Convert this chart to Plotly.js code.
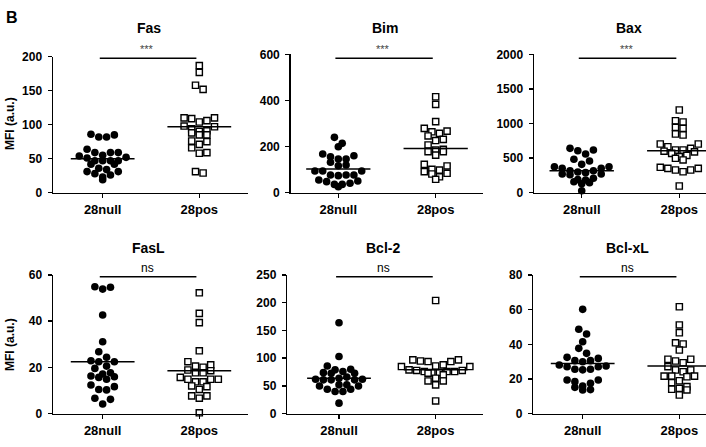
<!DOCTYPE html>
<html><head><meta charset="utf-8">
<script src="https://cdn.plot.ly/plotly-3.0.1.min.js"></script>
<style>html,body{margin:0;padding:0;background:#fff}#chart{width:706px;height:447px}</style>
</head><body><div id="chart"></div>
<script>
// ---- data ----
const groups = ['28null', '28pos'];
const panelTitles = ['Fas', 'Bim', 'Bax', 'FasL', 'Bcl-2', 'Bcl-xL'];
const significance = ['***', '***', '***', 'ns', 'ns', 'ns'];
const yAxisTitle = 'MFI (a.u.)';
const panelLetter = 'B';

const fasNull = [86,85,82,82,64,59,59,59,55,54,52,51,47,47,47,47,42,42,36,34,31,31,28,26,23,19];
const fasPos  = [187,177,158,152,110,110,109,106,104,98,97,94,91,90,88,85,85,76,75,71,66,59,58,31,29];
const fasMedian = [50, 97];

const bimNull = [240,214,199,168,160,156,146,146,132,120,117,94,94,94,77,77,77,74,55,51,48,41,36,36,26];
const bimPos  = [416,383,308,279,267,264,257,246,231,226,207,188,185,178,178,163,123,116,101,98,91,84,81,69,58];
const bimMedian = [103, 192];

const baxNull = [641,617,607,559,483,458,410,376,376,352,352,318,318,300,290,270,270,260,208,190,184,159,145,130,29];
const baxPos  = [1195,1040,1022,945,930,848,834,704,704,665,640,617,617,600,590,569,540,520,497,473,367,352,352,328,328,303,97];
const baxMedian = [318, 607];

const faslNull = [54.9,54.7,53.9,42.7,31.1,26.8,24.4,22.9,22.5,22.5,20.6,19.6,17.7,17.2,16.3,16,15.7,14.9,12.4,11.7,10.5,10.3,6.7,6.2,4.2];
const faslPos  = [52.3,43.4,39.4,27.2,22.5,21.1,20.6,20.1,18.9,18.6,17.7,17.7,15.7,14.9,14.9,14.9,13.8,13.8,12,11.7,10.5,7.7,7.7,6.7,0.4];
const faslMedian = [22.5, 18.6];

const bcl2Null = [164,103,86,80,79,76,74,73,73,66,64,62,62,61,61,61,52,52,50,50,44,44,40,40,19];
const bcl2Pos  = [204,97,97,95,94,94,88,86,85,85,79,78,78,76,76,76,74,74,73,70,64,59,59,52,23];
const bcl2Median = [64, 79];

const bclxlNull = [60.2,48.7,46,41.5,37.7,34.8,32.5,31.9,30.6,30.6,30,28.1,27.5,27.1,27.1,25.6,25.6,25.3,19.4,19.4,18.5,17.5,16,15.2,13.9,13.7];
const bclxlPos  = [61.7,51.2,46.7,40.9,40.2,36.7,31.4,31.4,30.4,29.4,27.1,25.2,25.2,24.2,21.7,21.7,21.7,21.3,19,17.9,15.6,14.6,14.1,13.7,10.8];
const bclxlMedian = [29, 27.5];

const yMax   = [200, 600, 2000, 60, 250, 80];
const yDtick = [50, 200, 500, 20, 50, 20];

// ---- layout geometry (pixels) ----
const W = 706, H = 447;
const boxes = [
  {x0:53,   x1:248, y0:56.7, y1:192.7, xr:[-0.514,1.504]},
  {x0:290.7,x1:483, y0:54.3, y1:192.7, xr:[-0.489,1.486]},
  {x0:534,  x1:706, y0:54.3, y1:192.7, xr:[-0.489,1.274]},
  {x0:53,   x1:248, y0:275,  y1:413.7, xr:[-0.514,1.504]},
  {x0:287.3,x1:483, y0:275,  y1:413.7, xr:[-0.535,1.490]},
  {x0:533.3,x1:706, y0:275,  y1:413.7, xr:[-0.511,1.276]}
];
const panelData = [
  [fasNull, fasPos, fasMedian],
  [bimNull, bimPos, bimMedian],
  [baxNull, baxPos, baxMedian],
  [faslNull, faslPos, faslMedian],
  [bcl2Null, bcl2Pos, bcl2Median],
  [bclxlNull, bclxlPos, bclxlMedian]
];

// Prism-like scatter-dot layout: values grouped into rows (row height = D px),
// each row spread symmetrically; highest values of a row go to the outside.
function rowSwarm(values, center, xScale, yScale, rowH, spacing) {
  const order = values.map((v, i) => i).sort((a, b) => values[b] - values[a]);
  const xs = new Array(values.length);
  let i = 0;
  while (i < order.length) {
    const startY = values[order[i]] * yScale;
    const row = [order[i]];
    let j = i + 1;
    while (j < order.length && startY - values[order[j]] * yScale < rowH) { row.push(order[j]); j++; }
    const n = row.length;
    const offs = [];
    for (let k = 0; k < n; k++) offs.push((k - (n - 1) / 2) * spacing);
    // outermost slots first, alternating left / right
    const slots = offs.map((o, k) => ({o, k})).sort((a, b) => Math.abs(b.o) - Math.abs(a.o) || a.o - b.o);
    row.forEach((idx, r) => { xs[idx] = center + slots[r].o / xScale; });
    i = j;
  }
  return xs;
}

const FONT = 'Liberation Sans, Arial, Helvetica, sans-serif';
const traces = [];
const layout = {
  width: W, height: H,
  margin: {l: 0, r: 0, t: 0, b: 0},
  paper_bgcolor: '#fff', plot_bgcolor: 'rgba(0,0,0,0)',
  showlegend: false,
  font: {family: FONT, color: '#000'},
  shapes: [], annotations: []
};

boxes.forEach((b, i) => {
  const sfx = i === 0 ? '' : String(i + 1);
  const xa = 'x' + sfx, ya = 'y' + sfx;
  const [nullVals, posVals, med] = panelData[i];
  const xScale = (b.x1 - b.x0) / (b.xr[1] - b.xr[0]);
  const yScale = (b.y1 - b.y0) / yMax[i];

  traces.push({
    type: 'scatter', mode: 'markers', xaxis: xa, yaxis: ya, cliponaxis: false,
    x: rowSwarm(nullVals, 0, xScale, yScale, 6.5, 7.8), y: nullVals,
    marker: {symbol: 'circle', size: 7.6, color: '#000', line: {width: 0}},
    hoverinfo: 'y'
  });
  traces.push({
    type: 'scatter', mode: 'markers', xaxis: xa, yaxis: ya, cliponaxis: false,
    x: rowSwarm(posVals, 1, xScale, yScale, 6.5, 7.6), y: posVals,
    marker: {symbol: 'square', size: 6.2, color: '#fff', line: {width: 1.4, color: '#000'}},
    hoverinfo: 'y'
  });
  [0, 1].forEach(g => {
    traces.push({
      type: 'scatter', mode: 'lines', xaxis: xa, yaxis: ya, cliponaxis: false,
      x: [g - 0.33, g + 0.33], y: [med[g], med[g]],
      line: {color: '#000', width: 1.5}, hoverinfo: 'skip'
    });
  });

  layout['xaxis' + sfx] = {
    domain: [b.x0 / W, b.x1 / W], anchor: ya, range: b.xr,
    tickmode: 'array', tickvals: [0, 1], ticktext: groups,
    showline: true, linecolor: '#000', linewidth: 1.5,
    ticks: 'outside', ticklen: 4, tickwidth: 1.5, tickcolor: '#000',
    showgrid: false, zeroline: false, fixedrange: true,
    tickfont: {family: FONT, size: 13, weight: 'bold', color: '#000'}
  };
  layout['yaxis' + sfx] = {
    domain: [1 - b.y1 / H, 1 - b.y0 / H], anchor: xa, range: [0, yMax[i]],
    tickmode: 'linear', tick0: 0, dtick: yDtick[i],
    showline: true, linecolor: '#000', linewidth: 1.5,
    ticks: 'outside', ticklen: 4, tickwidth: 1.5, tickcolor: '#000',
    showgrid: false, zeroline: false, fixedrange: true,
    ticklabelstandoff: 3,
    tickfont: {family: FONT, size: 12, weight: 'bold', color: '#000'}
  };

  const top = i < 3;
  // significance bar
  layout.shapes.push({
    type: 'line', xref: xa, yref: 'paper',
    x0: -0.03, x1: 0.97,
    y0: 1 - (top ? 58.3 : 276.7) / H, y1: 1 - (top ? 58.3 : 276.7) / H,
    line: {color: '#000', width: 1.5}
  });
  layout.annotations.push({
    xref: xa, yref: 'paper', x: 0.46,
    y: 1 - (top ? 49 : 267.5) / H, yanchor: 'middle', xanchor: 'center',
    text: significance[i], showarrow: false,
    font: {family: FONT, size: top ? 11 : 12, color: top ? '#444' : '#000'}
  });
  // panel title
  layout.annotations.push({
    xref: 'paper', yref: 'paper',
    x: ((b.x0 + (i % 3 === 2 ? b.x0 + 193 : b.x1)) / 2 - 2) / W,
    y: 1 - (top ? 28.5 : 248.5) / H, xanchor: 'center', yanchor: 'middle',
    text: panelTitles[i], showarrow: false,
    font: {family: FONT, size: 14, weight: 'bold', color: '#000'}
  });
});

// y-axis titles (left column)
[124, 345].forEach(py => {
  layout.annotations.push({
    xref: 'paper', yref: 'paper', x: 10 / W, y: 1 - py / H,
    xanchor: 'center', yanchor: 'middle', textangle: -90,
    text: yAxisTitle, showarrow: false,
    font: {family: FONT, size: 12, weight: 'bold', color: '#000'}
  });
});
// panel letter
layout.annotations.push({
  xref: 'paper', yref: 'paper', x: 4 / W, y: 1 - 17 / H,
  xanchor: 'left', yanchor: 'middle', text: panelLetter, showarrow: false,
  font: {family: FONT, size: 16, weight: 'bold', color: '#000'}
});

Plotly.newPlot('chart', traces, layout, {displayModeBar: false, staticPlot: true});
</script>
</body></html>
